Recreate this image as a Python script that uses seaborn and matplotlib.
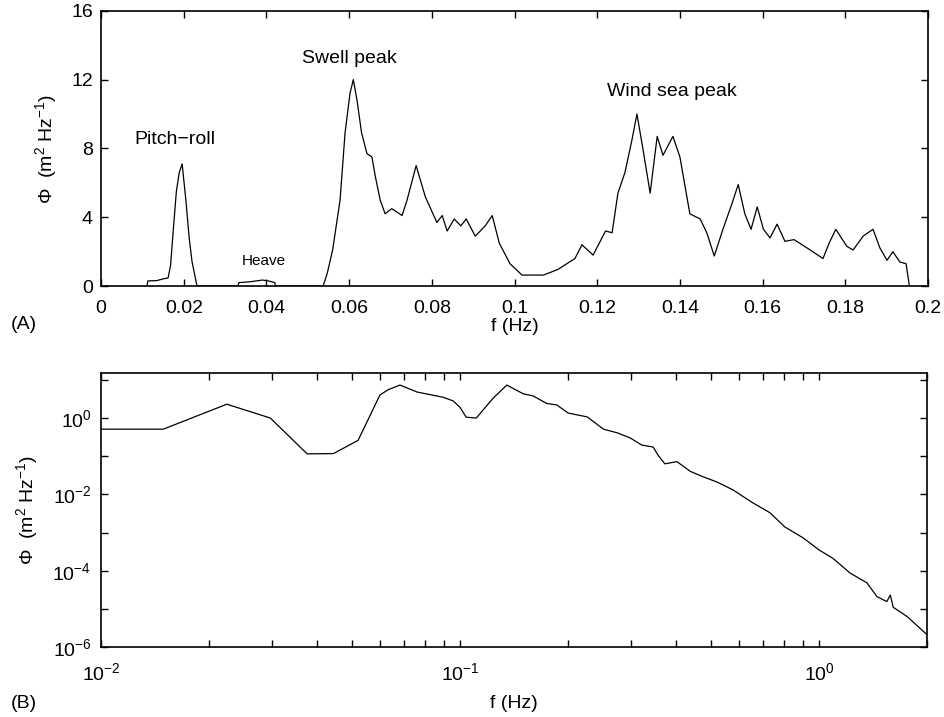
import numpy as np
import seaborn as sns
import matplotlib.pyplot as plt
from matplotlib.ticker import LogLocator, FixedLocator, NullFormatter

# Panel A: linear spectrum (Hz, m^2/Hz)
freq_a = [0.0111, 0.0113, 0.0135, 0.0150, 0.0162, 0.0168, 0.0174, 0.0182, 0.0189, 0.0196,
          0.0205, 0.0213, 0.0220, 0.0232, 0.0331, 0.0333, 0.0360, 0.0390, 0.0405, 0.0420,
          0.0422, 0.0537, 0.0547, 0.0560, 0.0578, 0.0590, 0.0602, 0.0610, 0.0619, 0.0630,
          0.0643, 0.0655, 0.0663, 0.0675, 0.0687, 0.0703, 0.0728, 0.0740, 0.0762, 0.0784,
          0.0812, 0.0825, 0.0837, 0.0854, 0.0870, 0.0883, 0.0905, 0.0929, 0.0946, 0.0963,
          0.0989, 0.1018, 0.1070, 0.1105, 0.1146, 0.1163, 0.1190, 0.1220, 0.1236, 0.1250,
          0.1267, 0.1284, 0.1296, 0.1311, 0.1328, 0.1345, 0.1359, 0.1383, 0.1400, 0.1424,
          0.1449, 0.1465, 0.1483, 0.1504, 0.1526, 0.1541, 0.1557, 0.1572, 0.1587, 0.1602,
          0.1618, 0.1635, 0.1654, 0.1676, 0.1715, 0.1746, 0.1761, 0.1777, 0.1804, 0.1819,
          0.1843, 0.1867, 0.1884, 0.1901, 0.1915, 0.1932, 0.1947, 0.1955]
phi_a = [0.0, 0.30, 0.32, 0.42, 0.47, 1.2, 3.1, 5.5, 6.6, 7.1,
         5.0, 2.8, 1.4, 0.0, 0.0, 0.2, 0.25, 0.35, 0.3, 0.2,
         0.0, 0.0, 0.75, 2.1, 5.0, 8.9, 11.2, 12.0, 10.8, 8.9,
         7.7, 7.5, 6.4, 5.0, 4.2, 4.5, 4.1, 5.0, 7.0, 5.2,
         3.7, 4.1, 3.2, 3.9, 3.5, 3.9, 2.9, 3.5, 4.1, 2.5,
         1.3, 0.64, 0.64, 0.97, 1.6, 2.4, 1.8, 3.2, 3.1, 5.4,
         6.6, 8.5, 10.0, 7.9, 5.4, 8.7, 7.6, 8.7, 7.5, 4.2,
         3.9, 3.1, 1.75, 3.3, 4.8, 5.9, 4.2, 3.3, 4.6, 3.3,
         2.8, 3.6, 2.6, 2.7, 2.1, 1.6, 2.5, 3.3, 2.3, 2.1,
         2.9, 3.3, 2.2, 1.5, 2.0, 1.4, 1.3, 0.0]

# Panel B: log-log spectrum
freq_b = [0.01, 0.0149, 0.0224, 0.0296, 0.0375, 0.0444, 0.052, 0.0598, 0.063, 0.068,
          0.0759, 0.0897, 0.0957, 0.100, 0.104, 0.111, 0.1236, 0.135, 0.150, 0.1597,
          0.1745, 0.186, 0.200, 0.226, 0.251, 0.274, 0.298, 0.321, 0.345, 0.356,
          0.372, 0.402, 0.438, 0.475, 0.520, 0.575, 0.654, 0.730, 0.803, 0.904,
          1.000, 1.094, 1.220, 1.360, 1.450, 1.545, 1.580, 1.610, 1.760, 2.000]
phi_b = [0.51, 0.51, 2.3, 1.0, 0.115, 0.117, 0.26, 4.0, 5.5, 7.3,
         4.8, 3.5, 2.8, 1.9, 1.05, 1.0, 3.3, 7.3, 4.3, 3.8,
         2.4, 2.2, 1.35, 1.07, 0.51, 0.41, 0.30, 0.195, 0.174, 0.107,
         0.063, 0.072, 0.040, 0.029, 0.021, 0.0132, 0.0060, 0.0033, 0.0014, 0.00072,
         0.00035, 0.00021, 0.000087, 0.000048, 0.000021, 0.0000155, 0.000023, 0.000011, 0.0000063, 0.0000021]

sns.set_style("ticks")
plt.rcParams['font.family'] = ['Liberation Sans', 'DejaVu Sans']
plt.rcParams['mathtext.fontset'] = 'custom'
plt.rcParams['mathtext.rm'] = 'Liberation Sans'
plt.rcParams['mathtext.it'] = 'Liberation Sans:italic'
plt.rcParams['axes.unicode_minus'] = True
for k in ('text.color', 'axes.labelcolor', 'xtick.color', 'ytick.color'):
    plt.rcParams[k] = 'black'

fig = plt.figure(figsize=(9.45, 7.17), dpi=100)
ax1 = fig.add_axes([0.107, 0.601, 0.875, 0.384])
ax2 = fig.add_axes([0.107, 0.0976, 0.874, 0.382])

ylab = r'$\Phi$  (m$^2$ Hz$^{-1}$)'
fs = 14

# --- Panel A
sns.lineplot(x=freq_a, y=phi_a, ax=ax1, color='black', linewidth=0.9,
             estimator=None, sort=False)
ax1.set_xlim(0, 0.2)
ax1.set_ylim(0, 16)
ax1.set_xticks(np.arange(0, 0.201, 0.02))
ax1.set_xticklabels(['0', '0.02', '0.04', '0.06', '0.08', '0.1', '0.12', '0.14', '0.16', '0.18', '0.2'])
ax1.set_yticks([0, 4, 8, 12, 16])
ax1.set_xlabel('f (Hz)', fontsize=fs, labelpad=1)
ax1.set_ylabel(ylab, fontsize=fs, labelpad=9)
ax1.text(0.0179, 8.5, 'Pitch\u2212roll', fontsize=fs, ha='center', va='center')
ax1.text(0.0394, 1.45, 'Heave', fontsize=11, ha='center', va='center')
ax1.text(0.0600, 13.2, 'Swell peak', fontsize=fs, ha='center', va='center')
ax1.text(0.1381, 11.3, 'Wind sea peak', fontsize=fs, ha='center', va='center')

# --- Panel B
sns.lineplot(x=freq_b, y=phi_b, ax=ax2, color='black', linewidth=0.9,
             estimator=None, sort=False)
ax2.set_xscale('log')
ax2.set_yscale('log')
ax2.set_xlim(0.01, 2.0)
ax2.set_ylim(1e-6, 15)
ax2.yaxis.set_major_locator(FixedLocator([1e-6, 1e-4, 1e-2, 1e0]))
ax2.yaxis.set_minor_locator(FixedLocator([1e-5, 1e-3, 1e-1, 1e1]))
ax2.yaxis.set_minor_formatter(NullFormatter())
ax2.xaxis.set_major_locator(LogLocator(base=10))
ax2.xaxis.set_minor_locator(LogLocator(base=10, subs=np.arange(2, 10)))
ax2.xaxis.set_minor_formatter(NullFormatter())
ax2.set_xlabel('f (Hz)', fontsize=fs, labelpad=8)
ax2.set_ylabel(ylab, fontsize=fs, labelpad=9)

for ax in (ax1, ax2):
    ax.tick_params(which='both', direction='in', top=True, right=True,
                   labelsize=fs, width=1.0, color='black')
    ax.tick_params(which='major', length=5)
    ax.tick_params(which='minor', length=5)
    for s in ax.spines.values():
        s.set_linewidth(1.2)
        s.set_color('black')

ax1.tick_params(axis='x', which='major', pad=10)
ax1.tick_params(axis='y', which='major', pad=6)
ax2.tick_params(axis='x', which='major', pad=11)
ax2.tick_params(axis='y', which='major', pad=7)

fig.text(0.011, 0.547, '(A)', fontsize=fs, ha='left', va='center')
fig.text(0.011, 0.0195, '(B)', fontsize=fs, ha='left', va='center')

fig.savefig('out.png', dpi=100)
